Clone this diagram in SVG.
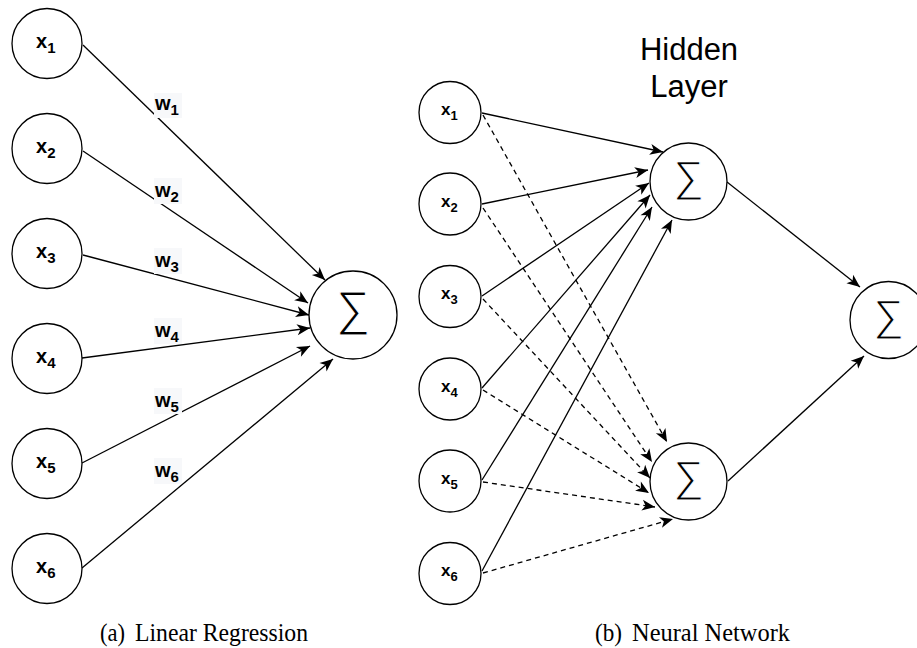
<svg xmlns="http://www.w3.org/2000/svg" width="917" height="648" viewBox="0 0 917 648">
  <style>
    .node { fill: #ffffff; stroke: #000000; stroke-width: 1.3; }
    .edge { fill: none; stroke: #000000; stroke-width: 1.3; }
    .dash { stroke-dasharray: 5 4; }
    .lbl { font-family: "Liberation Sans", Arial, sans-serif; font-weight: bold; fill: #000000; }
    .big { font-size: 20px; }
    .small { font-size: 17px; }
    .sub { font-size: 15px; }
    .subs { font-size: 13px; }
    .sigma { font-family: "Liberation Sans", Arial, sans-serif; fill: #000000; stroke: #ffffff; stroke-width: 1.1; paint-order: fill stroke; text-anchor: middle; }
    .wbg { fill: #f7f8fa; stroke: none; }
    .title { font-family: "Liberation Sans", Arial, sans-serif; font-size: 31px; fill: #000000; text-anchor: middle; }
    .cap { font-family: "Liberation Serif", "Times New Roman", serif; font-size: 25px; fill: #000000; }
  </style>
  <defs>
    <marker id="arrow" markerUnits="userSpaceOnUse" viewBox="-14 -7 15 14" refX="0" refY="0" markerWidth="15" markerHeight="14" orient="auto">
      <path d="M0,0 L-13,-5.5 L-9.5,0 L-13,5.5 Z" fill="#000000" stroke="none"/>
    </marker>
  </defs>
  <rect width="917" height="648" fill="#ffffff"/>

  <!-- connectors -->
  <g id="edges">
    <!-- linear regression: inputs to sum -->
    <line class="edge" x1="83" y1="45" x2="325" y2="280" marker-end="url(#arrow)"/>
    <line class="edge" x1="83" y1="151" x2="308" y2="303" marker-end="url(#arrow)"/>
    <line class="edge" x1="83" y1="255" x2="309" y2="315" marker-end="url(#arrow)"/>
    <line class="edge" x1="82" y1="358" x2="310" y2="328" marker-end="url(#arrow)"/>
    <line class="edge" x1="82" y1="463" x2="310" y2="346" marker-end="url(#arrow)"/>
    <line class="edge" x1="82" y1="568" x2="333" y2="359" marker-end="url(#arrow)"/>

    <!-- neural network: inputs to upper hidden unit -->
    <line class="edge" x1="482" y1="113" x2="663" y2="152" marker-end="url(#arrow)"/>
    <line class="edge" x1="482" y1="204" x2="648" y2="170" marker-end="url(#arrow)"/>
    <line class="edge" x1="482" y1="296" x2="649" y2="183" marker-end="url(#arrow)"/>
    <line class="edge" x1="482" y1="388" x2="650" y2="195" marker-end="url(#arrow)"/>
    <line class="edge" x1="482" y1="480" x2="652" y2="207" marker-end="url(#arrow)"/>
    <line class="edge" x1="482" y1="571" x2="672" y2="220" marker-end="url(#arrow)"/>

    <!-- neural network: inputs to lower hidden unit -->
    <line class="edge dash" x1="483" y1="115" x2="667" y2="442" marker-end="url(#arrow)"/>
    <line class="edge dash" x1="483" y1="208" x2="652" y2="462" marker-end="url(#arrow)"/>
    <line class="edge dash" x1="483" y1="299" x2="650" y2="478" marker-end="url(#arrow)"/>
    <line class="edge dash" x1="483" y1="390" x2="649" y2="493" marker-end="url(#arrow)"/>
    <line class="edge dash" x1="483" y1="482" x2="655" y2="507" marker-end="url(#arrow)"/>
    <line class="edge dash" x1="483" y1="573" x2="673" y2="519" marker-end="url(#arrow)"/>

    <!-- hidden units to output -->
    <line class="edge" x1="727" y1="182" x2="860" y2="287" marker-end="url(#arrow)"/>
    <line class="edge" x1="728" y1="481" x2="864" y2="356" marker-end="url(#arrow)"/>

    <!-- weight labels -->
    <g id="weights">
      <rect class="wbg" x="154" y="93" width="28" height="25"/>
      <text class="lbl big" x="155" y="110">w<tspan class="sub" dy="5">1</tspan></text>
      <rect class="wbg" x="154" y="178" width="28" height="26"/>
      <text class="lbl big" x="155" y="197">w<tspan class="sub" dy="5">2</tspan></text>
      <rect class="wbg" x="154" y="248" width="28" height="26"/>
      <text class="lbl big" x="155" y="267">w<tspan class="sub" dy="5">3</tspan></text>
      <rect class="wbg" x="154" y="318" width="28" height="26"/>
      <text class="lbl big" x="155" y="337">w<tspan class="sub" dy="5">4</tspan></text>
      <rect class="wbg" x="154" y="388" width="28" height="26"/>
      <text class="lbl big" x="155" y="407">w<tspan class="sub" dy="5">5</tspan></text>
      <rect class="wbg" x="154" y="458" width="28" height="26"/>
      <text class="lbl big" x="155" y="477">w<tspan class="sub" dy="5">6</tspan></text>
    </g>
  </g>

  <!-- linear regression nodes -->
  <g id="lr-x1"><circle class="node" cx="47" cy="43.5" r="35"/><text class="lbl big" x="36" y="48">x<tspan class="sub" dy="5">1</tspan></text></g>
  <g id="lr-x2"><circle class="node" cx="47" cy="148.5" r="35"/><text class="lbl big" x="36" y="153">x<tspan class="sub" dy="5">2</tspan></text></g>
  <g id="lr-x3"><circle class="node" cx="47" cy="253.5" r="35"/><text class="lbl big" x="36" y="258">x<tspan class="sub" dy="5">3</tspan></text></g>
  <g id="lr-x4"><circle class="node" cx="47" cy="358.5" r="35"/><text class="lbl big" x="36" y="363">x<tspan class="sub" dy="5">4</tspan></text></g>
  <g id="lr-x5"><circle class="node" cx="47" cy="463.5" r="35"/><text class="lbl big" x="36" y="468">x<tspan class="sub" dy="5">5</tspan></text></g>
  <g id="lr-x6"><circle class="node" cx="47" cy="568.5" r="35"/><text class="lbl big" x="36" y="573">x<tspan class="sub" dy="5">6</tspan></text></g>
  <g id="lr-sum"><circle class="node" cx="353" cy="315" r="44"/><text class="sigma" x="353" y="325" font-size="48">∑</text></g>

  <!-- neural network nodes -->
  <g id="nn-x1"><circle class="node" cx="450" cy="112.5" r="31"/><text class="lbl small" x="441" y="115">x<tspan class="subs" dy="5">1</tspan></text></g>
  <g id="nn-x2"><circle class="node" cx="450" cy="204" r="31"/><text class="lbl small" x="441" y="207">x<tspan class="subs" dy="5">2</tspan></text></g>
  <g id="nn-x3"><circle class="node" cx="450" cy="296.5" r="31"/><text class="lbl small" x="441" y="299">x<tspan class="subs" dy="5">3</tspan></text></g>
  <g id="nn-x4"><circle class="node" cx="450" cy="389" r="31"/><text class="lbl small" x="441" y="392">x<tspan class="subs" dy="5">4</tspan></text></g>
  <g id="nn-x5"><circle class="node" cx="450" cy="481" r="31"/><text class="lbl small" x="441" y="484">x<tspan class="subs" dy="5">5</tspan></text></g>
  <g id="nn-x6"><circle class="node" cx="450" cy="573.5" r="31"/><text class="lbl small" x="441" y="576">x<tspan class="subs" dy="5">6</tspan></text></g>
  <g id="nn-h1"><circle class="node" cx="688.5" cy="181.5" r="38.5"/><text class="sigma" x="688.5" y="191" font-size="43">∑</text></g>
  <g id="nn-h2"><circle class="node" cx="688.5" cy="481.5" r="38.5"/><text class="sigma" x="688.5" y="491" font-size="43">∑</text></g>
  <g id="nn-out"><circle class="node" cx="888.5" cy="320" r="38.5"/><text class="sigma" x="888.5" y="329.5" font-size="43">∑</text></g>

  <text class="title" x="689" y="60">Hidden</text>
  <text class="title" x="689" y="97">Layer</text>

  <!-- sub-figure captions -->
  <text class="cap" x="100" y="641" textLength="25" lengthAdjust="spacingAndGlyphs">(a)</text>
  <text class="cap" x="135" y="641" textLength="173" lengthAdjust="spacingAndGlyphs">Linear Regression</text>
  <text class="cap" x="595" y="641" textLength="27" lengthAdjust="spacingAndGlyphs">(b)</text>
  <text class="cap" x="632" y="641" textLength="158" lengthAdjust="spacingAndGlyphs">Neural Network</text>
</svg>
